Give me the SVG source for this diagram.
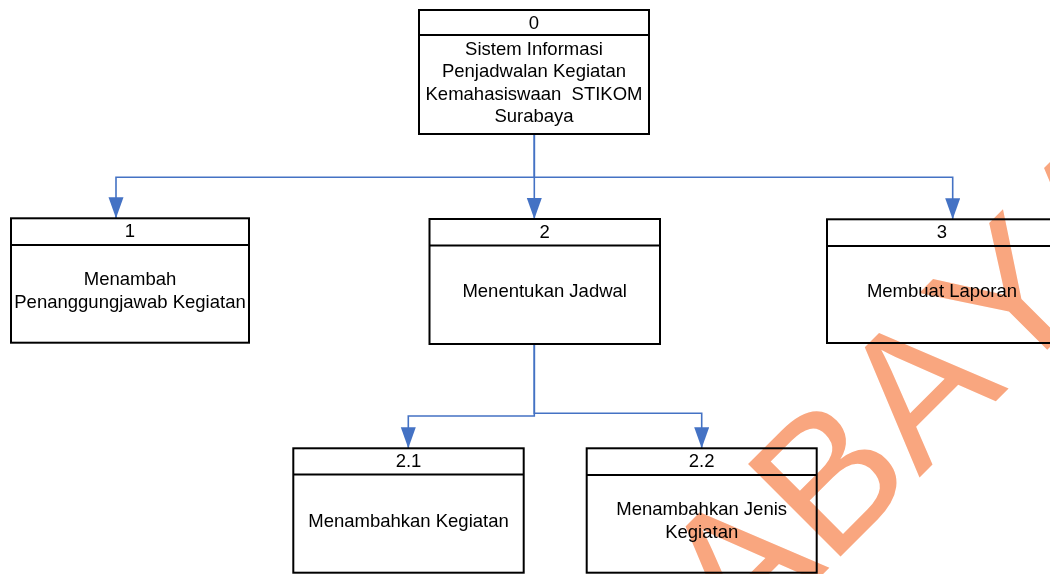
<svg xmlns="http://www.w3.org/2000/svg" width="1050" height="574" viewBox="0 0 1050 574">
<defs>
<style>
.box{fill:#ffffff;stroke:#000000;stroke-width:2}
.sep{stroke:#000000;stroke-width:2}
.t{font-family:"Liberation Sans",Arial,sans-serif;font-size:18.5px;fill:#000000;text-anchor:middle}
.conn{fill:none;stroke:#4472C4;stroke-width:1.6}
.wm{font-family:"Liberation Sans",Arial,sans-serif;font-size:190px;fill:#F9A67F;mix-blend-mode:multiply;font-kerning:none}
</style>
<marker id="arr" markerUnits="userSpaceOnUse" markerWidth="22" markerHeight="16" refX="21" refY="7.5" orient="auto">
<path d="M0,0 L21,7.5 L0,15 Z" fill="#4472C4"/>
</marker>
</defs>
<rect width="1050" height="574" fill="#ffffff"/>
<g id="connectors">
<path class="conn" d="M534.3,134 V177.3 H116 V218.3" marker-end="url(#arr)"/>
<path class="conn" d="M534.3,134 V219" marker-end="url(#arr)"/>
<path class="conn" d="M534.3,177.3 H952.7 V219.3" marker-end="url(#arr)"/>
<path class="conn" d="M534.3,344 V416 H408.3 V448.3" marker-end="url(#arr)"/>
<path class="conn" d="M534.3,344 V413.3 H701.7 V448.3" marker-end="url(#arr)"/>
</g>
<g id="node0">
<rect class="box" x="419" y="10" width="230" height="124"/>
<line class="sep" x1="419" y1="35" x2="649" y2="35"/>
<text class="t" x="534" y="29">0</text>
<text class="t" x="534" y="54.5">Sistem Informasi</text>
<text class="t" x="534" y="77">Penjadwalan Kegiatan</text>
<text class="t" x="534" y="99.5" xml:space="preserve">Kemahasiswaan  STIKOM</text>
<text class="t" x="534" y="122">Surabaya</text>
</g>
<g id="node1">
<rect class="box" x="11" y="218.3" width="238" height="124.4"/>
<line class="sep" x1="11" y1="245" x2="249" y2="245"/>
<text class="t" x="130" y="237">1</text>
<text class="t" x="130" y="285">Menambah</text>
<text class="t" x="130" y="307.7">Penanggungjawab Kegiatan</text>
</g>
<g id="node2">
<rect class="box" x="429.5" y="219" width="230.5" height="125"/>
<line class="sep" x1="429.5" y1="245.5" x2="660" y2="245.5"/>
<text class="t" x="544.7" y="238">2</text>
<text class="t" x="544.7" y="297.3">Menentukan Jadwal</text>
</g>
<g id="node3">
<rect class="box" x="827" y="219.3" width="230" height="123.7"/>
<line class="sep" x1="827" y1="246" x2="1057" y2="246"/>
<text class="t" x="942" y="238">3</text>
<text class="t" x="942" y="296.7">Membuat Laporan</text>
</g>
<g id="node2_1">
<rect class="box" x="293.3" y="448.3" width="230.4" height="124.4"/>
<line class="sep" x1="293.3" y1="474.5" x2="523.7" y2="474.5"/>
<text class="t" x="408.5" y="467">2.1</text>
<text class="t" x="408.5" y="526.7">Menambahkan Kegiatan</text>
</g>
<g id="node2_2">
<rect class="box" x="586.7" y="448.3" width="230" height="124.4"/>
<line class="sep" x1="586.7" y1="475" x2="816.7" y2="475"/>
<text class="t" x="701.7" y="466.7">2.2</text>
<text class="t" x="701.7" y="515">Menambahkan Jenis</text>
<text class="t" x="701.7" y="538.3">Kegiatan</text>
</g>
<text class="wm" x="740" y="657" transform="rotate(-45 740 657)">ABAYA</text>
</svg>
